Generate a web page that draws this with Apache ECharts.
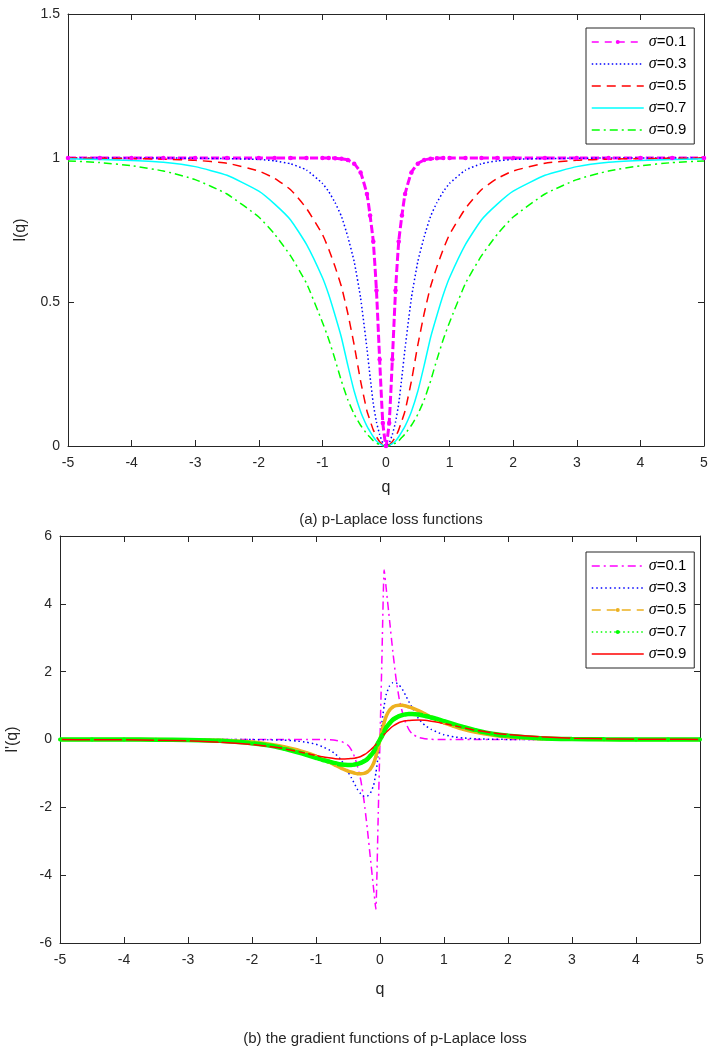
<!DOCTYPE html>
<html>
<head>
<meta charset="utf-8">
<script src="https://cdn.jsdelivr.net/npm/echarts@6/dist/echarts.min.js"></script>
<style>
html,body{margin:0;padding:0;background:#fff;}
#chart{width:719px;height:1051px;}
</style>
</head>
<body>
<div id="chart"></div>
<script>
// ---------- Data: (a) p-Laplace loss functions ----------
var topQ = [-5,-4.5,-4,-3.5,-3,-2.5,-2,-1.75,-1.5,-1.25,-1,-0.9,-0.8,-0.7,-0.6,-0.5,-0.4,-0.3,-0.25,-0.2,-0.15,-0.1,-0.05,0,0.05,0.1,0.15,0.2,0.25,0.3,0.4,0.5,0.6,0.7,0.8,0.9,1,1.25,1.5,1.75,2,2.5,3,3.5,4,4.5,5];
var lossS01 = [1,1,1,1,1,1,1,1,1,1,1,1,0.999,0.997,0.993,0.98,0.95,0.875,0.80,0.71,0.54,0.3,0.08,0,0.08,0.3,0.54,0.71,0.80,0.875,0.95,0.98,0.993,0.997,0.999,1,1,1,1,1,1,1,1,1,1,1,1];
var lossS03 = [1,1,1,1,0.999,0.998,0.995,0.99,0.98,0.958,0.912,0.883,0.845,0.797,0.726,0.64,0.515,0.34,0.24,0.147,0.083,0.04,0.01,0,0.01,0.04,0.083,0.147,0.24,0.34,0.515,0.64,0.726,0.797,0.845,0.883,0.912,0.958,0.98,0.99,0.995,0.998,0.999,1,1,1,1];
var lossS05 = [1,0.999,0.998,0.996,0.992,0.982,0.955,0.929,0.89,0.825,0.735,0.683,0.622,0.553,0.46,0.35,0.226,0.122,0.088,0.056,0.032,0.015,0.004,0,0.004,0.015,0.032,0.056,0.088,0.122,0.226,0.35,0.46,0.553,0.622,0.683,0.735,0.825,0.89,0.929,0.955,0.982,0.992,0.996,0.998,0.999,1];
var lossS07 = [0.997,0.995,0.991,0.985,0.97,0.94,0.885,0.84,0.785,0.70,0.585,0.525,0.453,0.376,0.28,0.19,0.12,0.069,0.05,0.032,0.017,0.008,0.002,0,0.002,0.008,0.017,0.032,0.05,0.069,0.12,0.19,0.28,0.376,0.453,0.525,0.585,0.70,0.785,0.84,0.885,0.94,0.97,0.985,0.991,0.995,0.997];
var lossS09 = [0.99,0.984,0.973,0.955,0.925,0.875,0.795,0.735,0.66,0.565,0.43,0.37,0.30,0.225,0.16,0.11,0.072,0.042,0.03,0.018,0.01,0.005,0.001,0,0.001,0.005,0.01,0.018,0.03,0.042,0.072,0.11,0.16,0.225,0.30,0.37,0.43,0.565,0.66,0.735,0.795,0.875,0.925,0.955,0.973,0.984,0.99];

// ---------- Data: (b) gradient functions ----------
var botQ = [-5,-4.5,-4,-3.5,-3,-2.5,-2,-1.75,-1.5,-1.3,-1.15,-1,-0.9,-0.8,-0.7,-0.6,-0.5,-0.45,-0.4,-0.35,-0.3,-0.25,-0.2,-0.15,-0.1,-0.065,-0.03,0,0.03,0.065,0.1,0.15,0.2,0.25,0.3,0.35,0.4,0.45,0.5,0.6,0.7,0.8,0.9,1,1.15,1.3,1.5,1.75,2,2.5,3,3.5,4,4.5,5];
var gradS01 = [0,0,0,0,0,0,0,0,0,0,0,0,0,-0.005,-0.02,-0.06,-0.17,-0.3,-0.5,-0.8,-1.2,-1.8,-2.6,-3.5,-4.4,-5.0,-2.4,0,2.4,5.0,4.4,3.5,2.6,1.8,1.2,0.8,0.5,0.3,0.17,0.06,0.02,0.005,0,0,0,0,0,0,0,0,0,0,0,0,0];
var gradS03 = [0,0,0,0,0,0,-0.003,-0.008,-0.02,-0.045,-0.08,-0.14,-0.21,-0.3,-0.42,-0.62,-0.95,-1.12,-1.3,-1.48,-1.6,-1.67,-1.67,-1.58,-1.35,-1.0,-0.5,0,0.5,1.0,1.35,1.58,1.67,1.67,1.6,1.48,1.3,1.12,0.95,0.62,0.42,0.3,0.21,0.14,0.08,0.045,0.02,0.008,0.003,0,0,0,0,0,0];
var gradS05 = [0,0,0,-0.003,-0.008,-0.025,-0.075,-0.13,-0.21,-0.3,-0.39,-0.49,-0.57,-0.66,-0.76,-0.85,-0.93,-0.96,-0.99,-1.01,-1.01,-1.0,-0.96,-0.87,-0.7,-0.5,-0.25,0,0.25,0.5,0.7,0.87,0.96,1.0,1.01,1.01,0.99,0.96,0.93,0.85,0.76,0.66,0.57,0.49,0.39,0.3,0.21,0.13,0.075,0.025,0.008,0.003,0,0,0];
var gradS07 = [0,0,-0.002,-0.005,-0.015,-0.04,-0.11,-0.17,-0.27,-0.37,-0.45,-0.54,-0.6,-0.65,-0.7,-0.74,-0.75,-0.75,-0.74,-0.72,-0.69,-0.64,-0.58,-0.48,-0.36,-0.24,-0.1,0,0.1,0.24,0.36,0.48,0.58,0.64,0.69,0.72,0.74,0.75,0.75,0.74,0.7,0.65,0.6,0.54,0.45,0.37,0.27,0.17,0.11,0.04,0.015,0.005,0.002,0,0];
var gradS09 = [-0.003,-0.005,-0.01,-0.02,-0.04,-0.08,-0.145,-0.2,-0.27,-0.35,-0.41,-0.47,-0.51,-0.54,-0.565,-0.575,-0.57,-0.56,-0.55,-0.53,-0.5,-0.45,-0.39,-0.31,-0.22,-0.15,-0.07,0,0.07,0.15,0.22,0.31,0.39,0.45,0.5,0.53,0.55,0.56,0.57,0.575,0.565,0.54,0.51,0.47,0.41,0.35,0.27,0.2,0.145,0.08,0.04,0.02,0.01,0.005,0.003];

var sigmaLabels = ['0.1','0.3','0.5','0.7','0.9'];
var xTicks = { min: -5, max: 5, interval: 1 };
var topY = { min: 0, max: 1.5, interval: 0.5 };
var botY = { min: -6, max: 6, interval: 2 };

// ---------- Styling ----------
var FONT = 'Liberation Sans, Arial, Helvetica, sans-serif';
var AX = '#262626';

function pairs(xs, ys){ return xs.map(function(x,i){ return [x, ys[i]]; }); }

function mainX(gridIndex){
  return {
    type:'value', gridIndex:gridIndex, min:xTicks.min, max:xTicks.max, interval:xTicks.interval,
    name:'q', nameLocation:'middle', nameGap: gridIndex===0 ? 34 : 39,
    nameTextStyle:{fontFamily:FONT, fontSize:16, color:AX},
    axisLine:{show:true, onZero:false, lineStyle:{color:AX, width:1}},
    axisTick:{show:true, inside:true, length:6, lineStyle:{color:AX}},
    axisLabel:{show:true, margin:10, fontFamily:FONT, fontSize:14, color:AX},
    splitLine:{show:false}
  };
}
function boxX(gridIndex){
  return {
    type:'value', gridIndex:gridIndex, position:'top', min:xTicks.min, max:xTicks.max, interval:xTicks.interval,
    axisLine:{show:true, onZero:false, lineStyle:{color:AX, width:1}},
    axisTick:{show:true, inside:true, length:6, lineStyle:{color:AX}},
    axisLabel:{show:false}, splitLine:{show:false}
  };
}
function mainY(gridIndex, r, name){
  return {
    type:'value', gridIndex:gridIndex, min:r.min, max:r.max, interval:r.interval,
    name:name, nameLocation:'middle', nameRotate:90, nameGap:39,
    nameTextStyle:{fontFamily:FONT, fontSize:16, color:AX},
    axisLine:{show:true, onZero:false, lineStyle:{color:AX, width:1}},
    axisTick:{show:true, inside:true, length:6, lineStyle:{color:AX}},
    axisLabel:{show:true, margin:8, fontFamily:FONT, fontSize:14, color:AX},
    splitLine:{show:false}
  };
}
function boxY(gridIndex, r){
  return {
    type:'value', gridIndex:gridIndex, position:'right', min:r.min, max:r.max, interval:r.interval,
    axisLine:{show:true, onZero:false, lineStyle:{color:AX, width:1}},
    axisTick:{show:true, inside:true, length:6, lineStyle:{color:AX}},
    axisLabel:{show:false}, splitLine:{show:false}
  };
}

function lineSeries(name, xi, yi, data, color, width, type, symbol, symbolSize){
  return {
    name:name, type:'line', xAxisIndex:xi, yAxisIndex:yi, data:data,
    smooth:0.15, animation:false, silent:true,
    symbol: symbol || 'none', symbolSize: symbolSize || 0, showSymbol: !!symbol,
    itemStyle:{color:color},
    lineStyle:{color:color, width:width, type:type}
  };
}

var legendText = {
  fontFamily:FONT, fontSize:15, color:'#000',
  rich:{ s:{ fontFamily:'Liberation Serif, DejaVu Serif, serif', fontStyle:'italic', fontSize:16, color:'#000' } }
};
function legendFmt(name){ return '{s|σ}=' + name.slice(1); }

var topNames = sigmaLabels.map(function(s){ return 'a' + s; });
var botNames = sigmaLabels.map(function(s){ return 'b' + s; });

var hideDot = {opacity:0};

var option = {
  backgroundColor:'#fff',
  animation:false,
  title:[
    {text:'(a) p-Laplace loss functions', left:386, top:507, textAlign:'center',
     textStyle:{fontFamily:FONT, fontSize:15, fontWeight:'normal', color:'#262626'}},
    {text:'(b) the gradient functions of p-Laplace loss', left:380, top:1026, textAlign:'center',
     textStyle:{fontFamily:FONT, fontSize:15, fontWeight:'normal', color:'#262626'}}
  ],
  grid:[
    {left:68, top:14, width:636, height:432, containLabel:false, outerBoundsMode:'none'},
    {left:60, top:536, width:640, height:407, containLabel:false, outerBoundsMode:'none'}
  ],
  xAxis:[ mainX(0), boxX(0), mainX(1), boxX(1) ],
  yAxis:[ mainY(0, topY, 'l(q)'), boxY(0, topY), mainY(1, botY, "l'(q)"), boxY(1, botY) ],
  legend:[
    {
      orient:'vertical', left:586, top:28, itemWidth:52, itemHeight:5, itemGap:6,
      padding:[6,8,6,5], borderColor:AX, borderWidth:1, backgroundColor:'#fff',
      selectedMode:false, textStyle:legendText, formatter:legendFmt,
      data:[
        {name:topNames[0], lineStyle:{width:1.5, type:[7,6]}},
        {name:topNames[1], itemStyle:hideDot, lineStyle:{width:1.5}},
        {name:topNames[2], itemStyle:hideDot, lineStyle:{width:1.5}},
        {name:topNames[3], itemStyle:hideDot, lineStyle:{width:1.5}},
        {name:topNames[4], itemStyle:hideDot, lineStyle:{width:1.5}}
      ]
    },
    {
      orient:'vertical', left:586, top:552, itemWidth:52, itemHeight:5, itemGap:6,
      padding:[6,8,6,5], borderColor:AX, borderWidth:1, backgroundColor:'#fff',
      selectedMode:false, textStyle:legendText, formatter:legendFmt,
      data:[
        {name:botNames[0], itemStyle:hideDot, lineStyle:{width:1.5}},
        {name:botNames[1], itemStyle:hideDot, lineStyle:{width:1.5}},
        {name:botNames[2], lineStyle:{width:1.5, type:[9,6]}},
        {name:botNames[3], lineStyle:{width:1.5, type:[1.5,3]}},
        {name:botNames[4], itemStyle:hideDot, lineStyle:{width:1.5}}
      ]
    }
  ],
  series:[
    lineSeries(topNames[0], 0, 0, pairs(topQ, lossS01), '#FF00FF', 3, [8,3], 'circle', 4.5),
    lineSeries(topNames[1], 0, 0, pairs(topQ, lossS03), '#0000FF', 1.5, [1.5,2.5]),
    lineSeries(topNames[2], 0, 0, pairs(topQ, lossS05), '#FF0000', 1.5, [9,6]),
    lineSeries(topNames[3], 0, 0, pairs(topQ, lossS07), '#00FFFF', 1.5, 'solid'),
    lineSeries(topNames[4], 0, 0, pairs(topQ, lossS09), '#00FF00', 1.5, [8,4,2,4]),

    lineSeries(botNames[0], 2, 2, pairs(botQ, gradS01), '#FF00FF', 1.5, [8,4,2,4]),
    lineSeries(botNames[1], 2, 2, pairs(botQ, gradS03), '#0000FF', 1.5, [1.5,3]),
    lineSeries(botNames[2], 2, 2, pairs(botQ, gradS05), '#EDB120', 3.5, 'solid', 'circle', 3),
    lineSeries(botNames[3], 2, 2, pairs(botQ, gradS07), '#00FF00', 4.5, 'solid', 'circle', 4),
    lineSeries(botNames[4], 2, 2, pairs(botQ, gradS09), '#FF0000', 1.5, 'solid')
  ]
};

var chart = echarts.init(document.getElementById('chart'), null, {renderer:'canvas'});
chart.setOption(option);
</script>
</body>
</html>
